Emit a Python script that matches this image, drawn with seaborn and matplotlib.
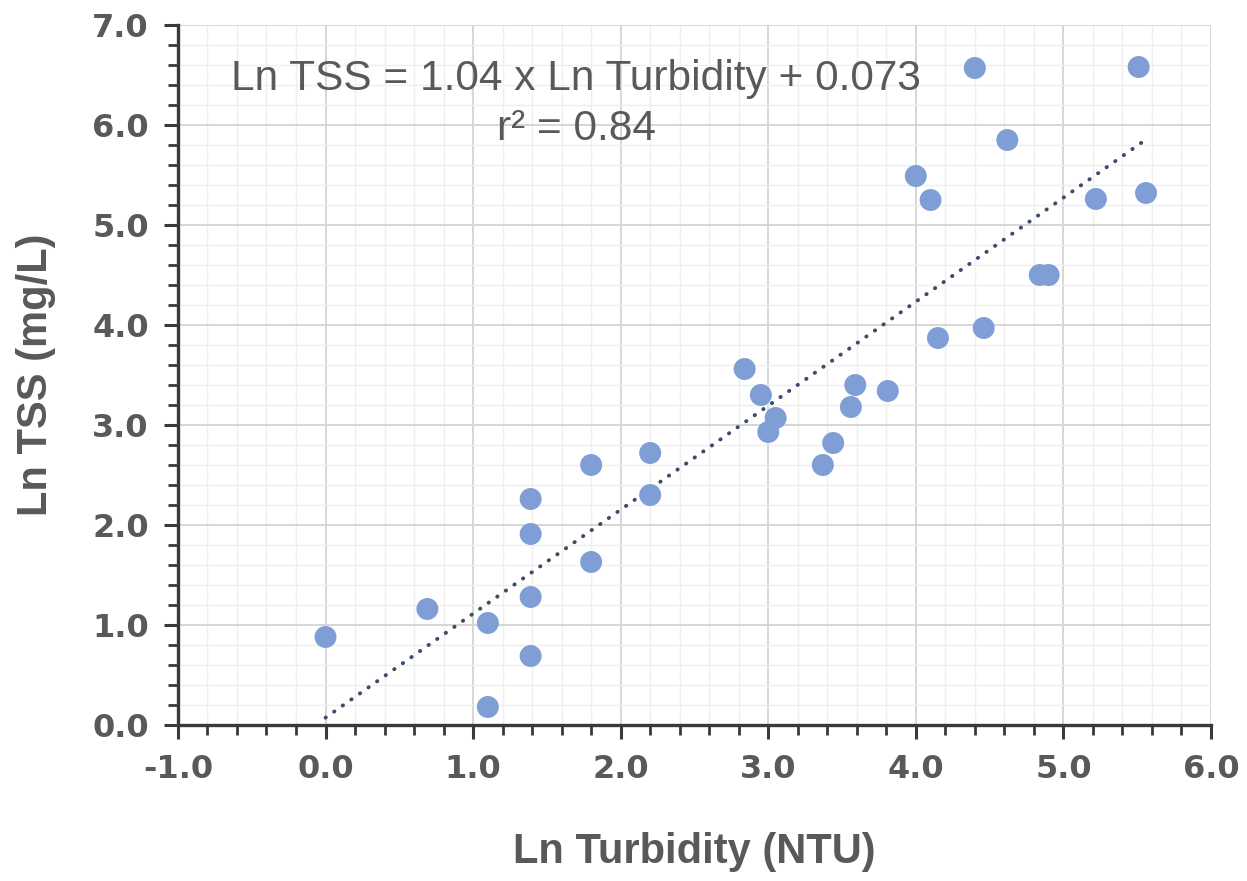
import matplotlib
matplotlib.use("Agg")
import matplotlib.pyplot as plt
import seaborn as sns
import pandas as pd
import numpy as np
from matplotlib.ticker import MultipleLocator, FormatStrFormatter

# ---- data ----
ln_turbidity = [0.00, 0.69, 1.10, 1.10, 1.39, 1.39, 1.39, 1.39, 1.80, 1.80,
                2.20, 2.20, 2.84, 2.95, 3.05, 3.00, 3.37, 3.44, 3.56, 3.59,
                3.81, 4.00, 4.10, 4.15, 4.40, 4.46, 4.62, 4.84, 4.90, 5.22,
                5.51, 5.56]
ln_tss = [0.88, 1.16, 1.02, 0.18, 2.26, 1.91, 1.28, 0.69, 2.60, 1.63,
          2.72, 2.30, 3.56, 3.30, 3.07, 2.93, 2.60, 2.82, 3.18, 3.40,
          3.34, 5.49, 5.25, 3.87, 6.57, 3.97, 5.85, 4.50, 4.50, 5.26,
          6.58, 5.32]
slope = 1.04
intercept = 0.073
r2 = 0.84
eq_text = "Ln TSS = 1.04 x Ln Turbidity + 0.073"
r2_text = "r² = 0.84"
x_label = "Ln Turbidity (NTU)"
y_label = "Ln TSS (mg/L)"

df = pd.DataFrame({"x": ln_turbidity, "y": ln_tss})
trend_x = np.array([0.0, max(ln_turbidity)])
trend_df = pd.DataFrame({"x": trend_x, "y": slope * trend_x + intercept})

sns.set_style("white")
plt.rcParams['font.family'] = ['Liberation Sans', 'DejaVu Sans']

fig = plt.figure(figsize=(12.47, 8.81), dpi=100)
ax = fig.add_axes([0.1427, 0.1771, 0.9711 - 0.1427, 0.9716 - 0.1771])

ax.set_xlim(-1, 6)
ax.set_ylim(0, 7)
ax.xaxis.set_major_locator(MultipleLocator(1))
ax.xaxis.set_minor_locator(MultipleLocator(0.2))
ax.yaxis.set_major_locator(MultipleLocator(1))
ax.yaxis.set_minor_locator(MultipleLocator(0.2))
ax.xaxis.set_major_formatter(FormatStrFormatter('%.1f'))
ax.yaxis.set_major_formatter(FormatStrFormatter('%.1f'))

ax.grid(which='minor', color='#efefef', lw=1.0, zorder=0)
ax.grid(which='major', color='#d6d6d6', lw=1.4, zorder=0)
ax.set_axisbelow(True)

sns.lineplot(data=trend_df, x="x", y="y", ax=ax, color='#3d4c6b', lw=2.8,
             linestyle=(0, (0.1, 2.6)), dash_capstyle='round', zorder=3)
sns.scatterplot(data=df, x="x", y="y", ax=ax, s=250, color='#7f9ed6',
                edgecolor='none', linewidth=0, zorder=4, clip_on=False)

for side in ['top', 'right']:
    ax.spines[side].set_visible(False)
for side in ['left', 'bottom']:
    ax.spines[side].set_color('#3a3a3a')
    ax.spines[side].set_linewidth(2.4)

ax.tick_params(which='major', direction='out', length=10, width=2.2, color='#3a3a3a',
               labelcolor='#595959', bottom=True, left=True)
ax.tick_params(which='minor', direction='out', length=7, width=2.0, color='#3a3a3a',
               bottom=True, left=True)
ax.tick_params(axis='x', which='major', pad=11)
ax.tick_params(axis='y', which='major', pad=11)
for lab in ax.get_xticklabels() + ax.get_yticklabels():
    lab.set_fontfamily('DejaVu Sans')
    lab.set_fontweight('bold')
    lab.set_fontsize(23)

ax.set_xlabel(x_label, fontsize=30, fontweight='bold', color='#595959', labelpad=34)
ax.set_ylabel(y_label, fontsize=30, fontweight='bold', color='#595959', labelpad=26)

ax.text(1.70, 6.35, eq_text, fontsize=30.5, color='#595959', ha='center', va='baseline', zorder=5)
ax.text(1.70, 5.85, r2_text, fontsize=30.5, color='#595959', ha='center', va='baseline', zorder=5)

fig.savefig("out.png", dpi=100)
